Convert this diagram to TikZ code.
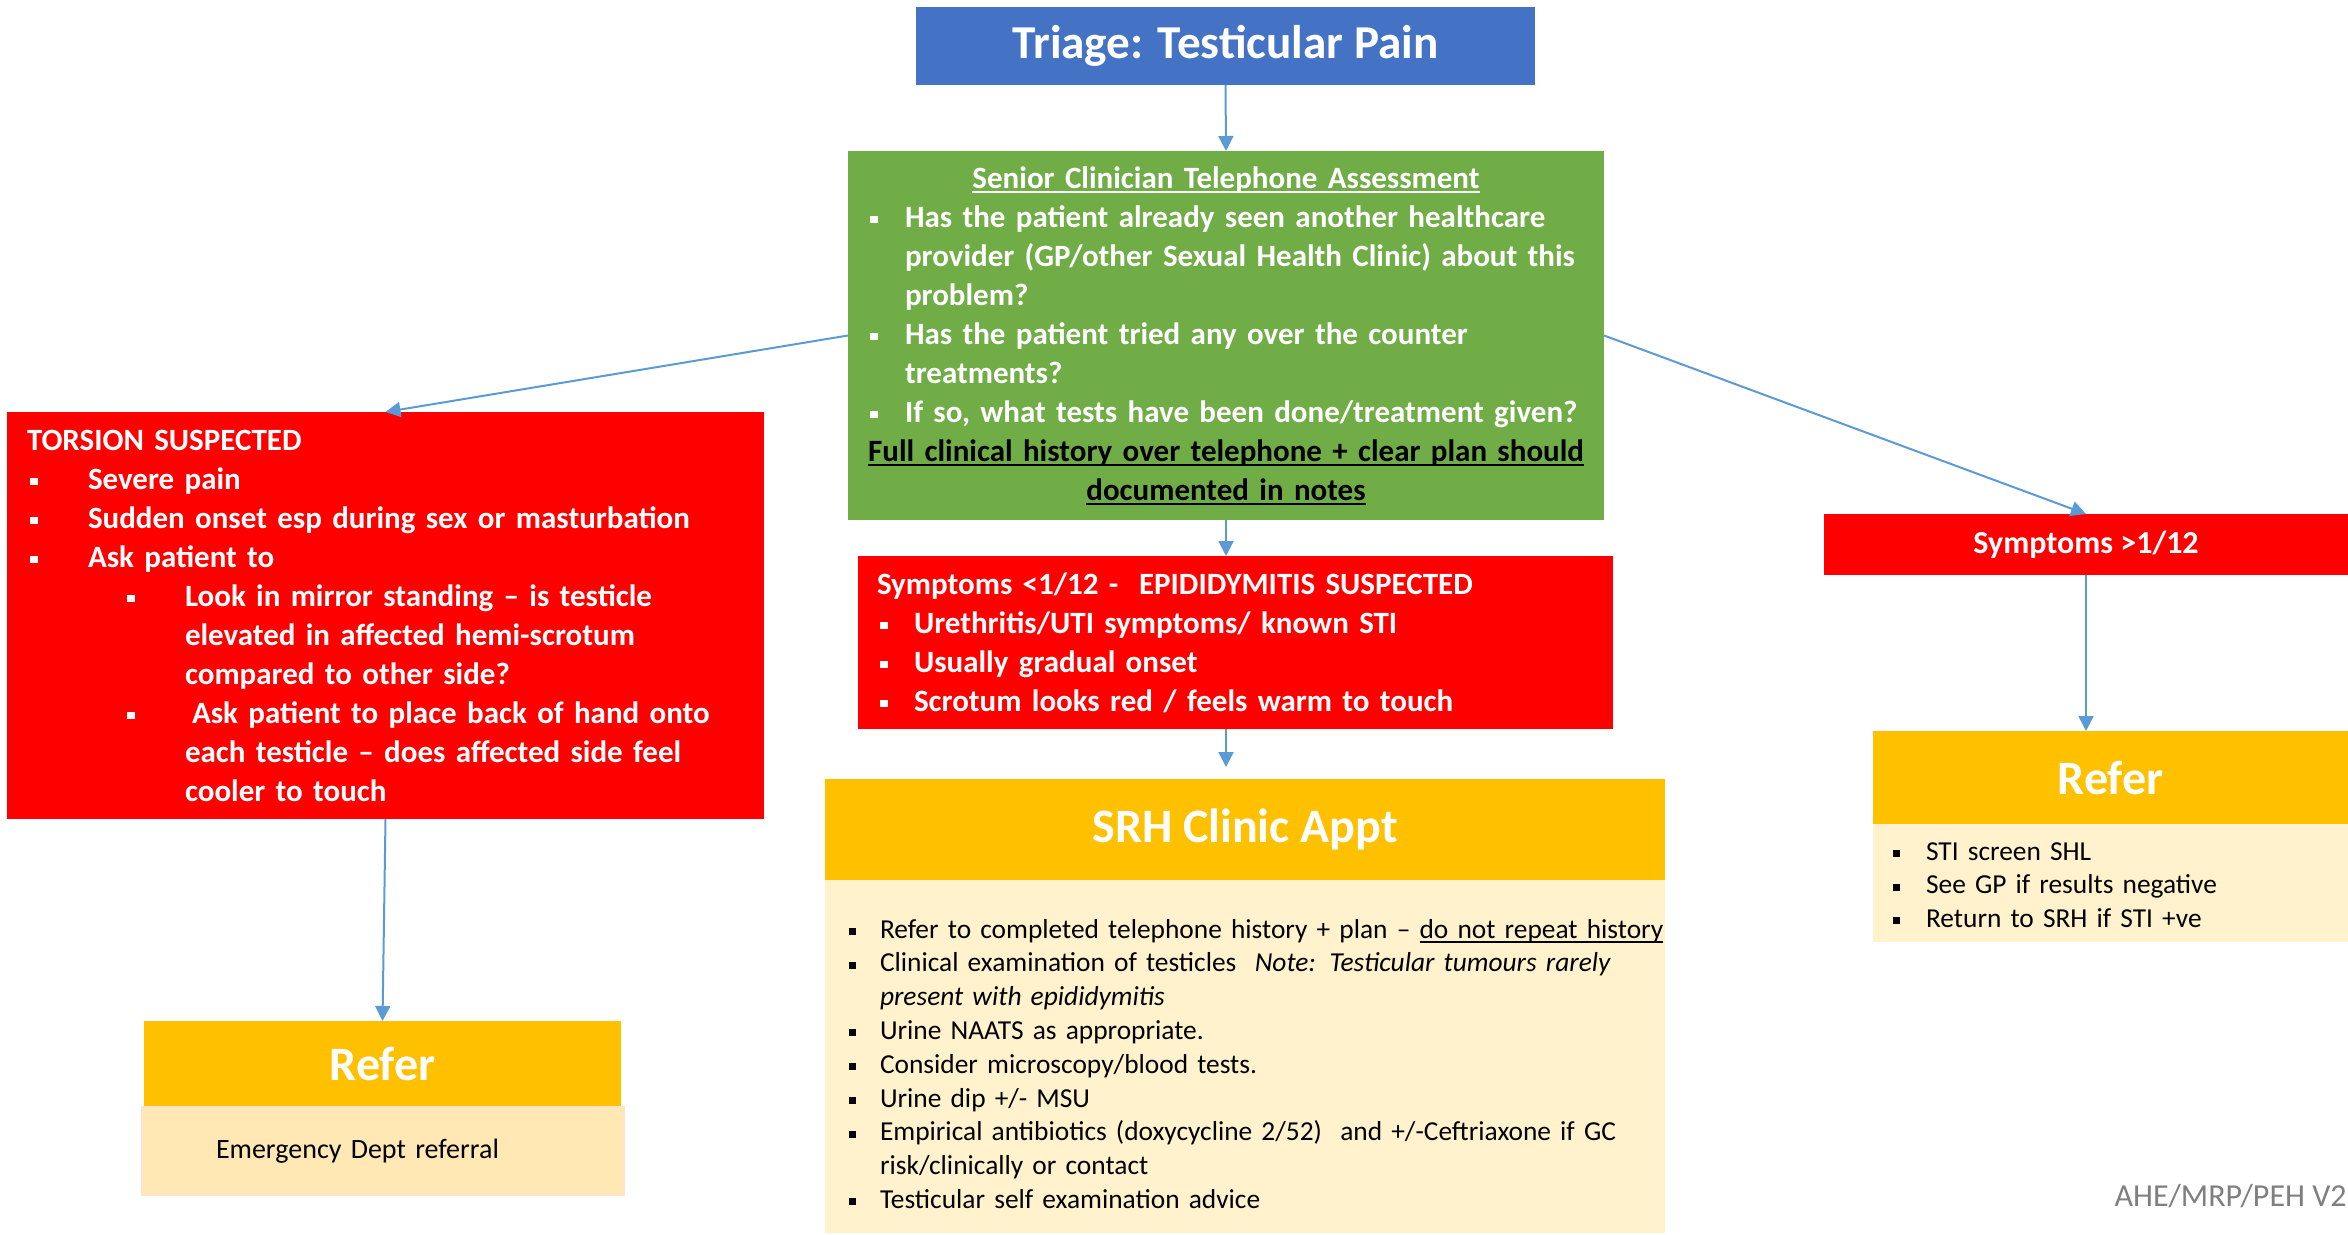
\documentclass[tikz,border=0pt]{standalone}
\usepackage{fontspec}
\setmainfont{Carlito}
\usetikzlibrary{arrows.meta}

\definecolor{triblue}{HTML}{4472C4}
\definecolor{assessgreen}{HTML}{70AD47}
\definecolor{alertred}{HTML}{FF0000}
\definecolor{referorange}{HTML}{FFC000}
\definecolor{notecream}{HTML}{FFF2CC}
\definecolor{edcream}{HTML}{FFE8B3}
\definecolor{edline}{HTML}{FCE4CC}
\definecolor{arrowblue}{HTML}{5B9BD5}
\definecolor{footgray}{HTML}{7F7F7F}

\newsavebox{\ulbox}
\newcommand{\uln}[1]{\leavevmode\sbox{\ulbox}{#1}\rlap{\rule[-2.2pt]{\wd\ulbox}{0.9pt}}\usebox{\ulbox}}
\newcommand{\sqmark}{\raisebox{0.12em}{\rule{0.25em}{0.25em}}}
% bullet line: #1 bullet offset, #2 text indent, #3 text
\newcommand{\sqitem}[3]{\par\hangindent=#2\hangafter=1\noindent\hspace*{#1}\makebox[\dimexpr#2-#1\relax][l]{\sqmark}#3\par}

\tikzset{
  panel/.style={rectangle, anchor=north west, inner ysep=0pt, outer sep=0pt},
  headfont/.style={font=\bfseries\fontsize{24}{29}\selectfont, text=white},
  bodyfont/.style={font=\bfseries\fontsize{15.5}{19.5}\selectfont},
  notefont/.style={font=\fontsize{13.7}{16.9}\selectfont},
  flow/.style={draw=arrowblue, line width=1pt}
}

\begin{document}
\begin{tikzpicture}[x=0.5pt, y=-0.5pt, >={Triangle[length=7.5pt,width=7.5pt]}]
	\useasboundingbox (0,0) rectangle (2348,1235);

	\node (triage) [panel, fill=triblue, headfont, font=\bfseries\fontsize{23.6}{29}\selectfont, minimum width=309.5pt, minimum height=39pt] at (916,7) {Triage: Testicular Pain};

	\node (assess) [panel, fill=assessgreen, bodyfont, text=white, minimum width=378pt, minimum height=184.5pt, inner xsep=8pt, text width=362pt, align=left] at (848,151) {%
		{\centering\uln{Senior Clinician Telephone Assessment}\par}
		\sqitem{3pt}{20.5pt}{Has the patient already seen another healthcare\newline provider (GP/other Sexual Health Clinic) about this\newline problem?}
		\sqitem{3pt}{20.5pt}{Has the patient tried any over the counter\newline treatments?}
		\sqitem{3pt}{20.5pt}{If so, what tests have been done/treatment given?}
		{\centering\color{black}\uln{Full clinical history over telephone + clear plan should}\par
		\uln{documented in notes}\par}};

	\node (torsion) [panel, fill=alertred, bodyfont, text=white, minimum width=378.5pt, minimum height=203.5pt, inner xsep=10pt, text width=358.5pt, align=left] at (7,412) {%
		TORSION SUSPECTED\par
		\sqitem{1.5pt}{30.5pt}{Severe pain}
		\sqitem{1.5pt}{30.5pt}{Sudden onset esp during sex or masturbation}
		\sqitem{1.5pt}{30.5pt}{Ask patient to}
		\sqitem{50pt}{79pt}{Look in mirror standing – is testicle\newline elevated in affected hemi-scrotum\newline compared to other side?}
		\sqitem{50pt}{79pt}{\hspace*{3.5pt}Ask patient to place back of hand onto\newline each testicle – does affected side feel\newline cooler to touch}};

	\node (epid) [panel, fill=alertred, bodyfont, text=white, minimum width=377.5pt, minimum height=86.5pt, inner xsep=9.5pt, text width=358.5pt, align=left] at (858,556) {%
		Symptoms <1/12 -\ \ EPIDIDYMITIS SUSPECTED\par
		\sqitem{1.5pt}{18.5pt}{Urethritis/UTI symptoms/ known STI}
		\sqitem{1.5pt}{18.5pt}{Usually gradual onset}
		\sqitem{1.5pt}{18.5pt}{Scrotum looks red / feels warm to touch}};

	\node (srhhead) [panel, fill=referorange, headfont, minimum width=420pt, minimum height=50.5pt] at (825,779) {SRH Clinic Appt};
	\node (srhbody) [panel, fill=notecream, notefont, minimum width=420pt, minimum height=176.5pt, inner xsep=0pt, text width=420pt, align=left] at (825,880) {%
		\sqitem{12pt}{27.5pt}{Refer to completed telephone history + plan – \uln{do not repeat history}}
		\sqitem{12pt}{27.5pt}{Clinical examination of testicles\ \ \textit{Note: Testicular tumours rarely\newline present with epididymitis}}
		\sqitem{12pt}{27.5pt}{Urine NAATS as appropriate.}
		\sqitem{12pt}{27.5pt}{Consider microscopy/blood tests.}
		\sqitem{12pt}{27.5pt}{Urine dip +/- MSU}
		\sqitem{12pt}{27.5pt}{Empirical antibiotics (doxycycline 2/52)\ \ and +/-Ceftriaxone if GC\newline risk/clinically or contact}
		\sqitem{12pt}{27.5pt}{Testicular self examination advice}};

	\node (sym) [panel, fill=alertred, font=\bfseries\fontsize{16}{19.5}\selectfont, text=white, minimum width=262pt, minimum height=30.5pt] at (1824,514) {Symptoms >1/12};

	\node (rrefhead) [panel, fill=referorange, headfont, minimum width=237.5pt, minimum height=46.5pt] at (1873,731) {Refer};
	\node (rrefbody) [panel, fill=notecream, notefont, minimum width=237.5pt, minimum height=59pt, inner xsep=10pt, text width=217.5pt, align=left] at (1873,824) {%
		\sqitem{0pt}{16.5pt}{STI screen SHL}
		\sqitem{0pt}{16.5pt}{See GP if results negative}
		\sqitem{0pt}{16.5pt}{Return to SRH if STI +ve}\kern6pt};

	\node (lrefhead) [panel, fill=referorange, headfont, minimum width=238.5pt, minimum height=43pt] at (144,1021) {Refer};
	\node (lrefbody) [panel, fill=edcream, draw=edline, line width=1pt, font=\fontsize{14}{17}\selectfont, minimum width=241pt, minimum height=44pt, inner xsep=37pt, text width=167pt, align=left] at (142,1107) {Emergency Dept referral};

	\node (version) [anchor=east, inner sep=0pt, text=footgray, font=\fontsize{16}{19.5}\selectfont] at (2347,1196) {AHE/MRP/PEH V2};

	\draw [->,flow] (triage.south) -- (assess.north);
	\draw [->,flow] (assess.west) -- (torsion.north);
	\draw [->,flow] (assess.east) -- (sym.north);
	\draw [->,flow] (assess.south) -- (assess.south |- epid.north);
	\draw [->,flow,shorten >=6pt] (assess.south |- epid.south) -- (assess.south |- srhhead.north);
	\draw [->,flow] (torsion.south) -- (lrefhead.north);
	\draw [->,flow] (sym.south) -- (sym.south |- rrefhead.north);
\end{tikzpicture}
\end{document}
